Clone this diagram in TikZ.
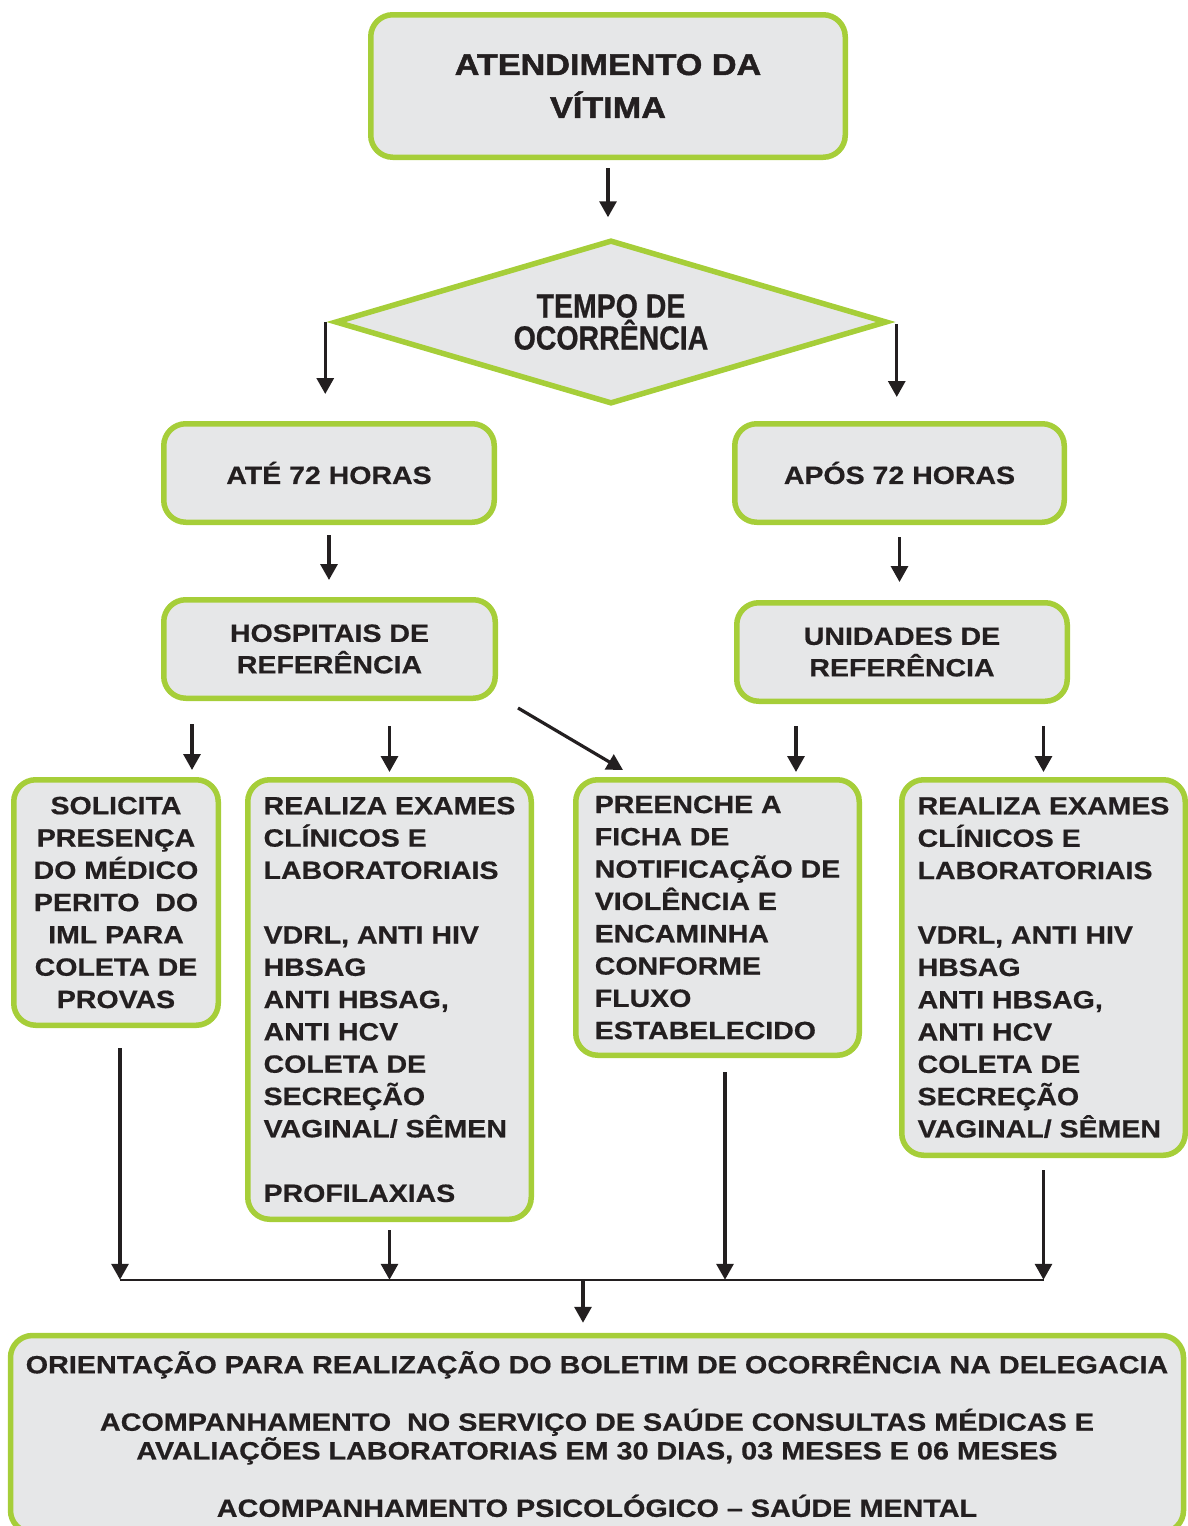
\documentclass[tikz,border=0pt]{standalone}
\usepackage{fontspec}
\setmainfont{Liberation Sans}
\newfontfamily\fw[FakeStretch=1.14, FakeBold=0.6]{Liberation Sans}
\newfontfamily\fb[FakeStretch=1.14, FakeBold=1.6]{Liberation Sans}
\newfontfamily\fc[FakeStretch=0.85, FakeBold=0.6]{Liberation Sans}
\newfontfamily\fl[FakeStretch=1.15, FakeBold=0.6]{Liberation Sans}
\usetikzlibrary{arrows.meta,shapes.geometric,calc}
\definecolor{lime}{RGB}{166,206,57}
\definecolor{boxgray}{RGB}{230,231,232}
\definecolor{ink}{RGB}{35,31,32}
\begin{document}
\begin{tikzpicture}[x=1pt,y=-1pt,
  box/.style={draw=lime, fill=boxgray, line width=5.5pt, rounded corners=22pt, inner sep=0pt, text=ink},
  midtxt/.style={font={\fw\bfseries\fontsize{25}{32.3}\selectfont}},
  arr/.style={draw=ink, line width=3.2pt, -{Triangle[width=17pt,length=16pt]}},
]
\useasboundingbox (0,0) rectangle (1188,1526);
\clip (0,0) rectangle (1188,1526);

\node[box, minimum width=474.5pt, minimum height=142.5pt, align=center,
      font={\fb\bfseries\fontsize{30}{43}\selectfont}] (top) at (608,86)
  {ATENDIMENTO DA\\V\'ITIMA};

\node[draw=lime, fill=boxgray, line width=5.5pt, text=ink, shape=diamond, shape aspect=3.3,
      inner sep=0pt, minimum width=552pt, minimum height=164pt, align=center,
      font={\fc\bfseries\fontsize{33.5}{32}\selectfont}] (diam) at (611,322)
  {TEMPO DE\\OCORR\^ENCIA};

\node[box, midtxt, minimum width=330.5pt, minimum height=98.5pt] (ate) at (329,473) {AT\'E 72 HORAS};
\node[box, midtxt, minimum width=329.5pt, minimum height=98.5pt] (apos) at (899.5,473) {AP\'OS 72 HORAS};

\node[box, midtxt, minimum width=331.5pt, minimum height=98.5pt, align=center,
      font={\fw\bfseries\fontsize{25}{31.5}\selectfont}] (hosp) at (329.5,649) {HOSPITAIS DE\\REFER\^ENCIA};
\node[box, midtxt, minimum width=330.5pt, minimum height=98.5pt, align=center,
      font={\fw\bfseries\fontsize{25}{31.5}\selectfont}] (unid) at (902,652) {UNIDADES DE\\REFER\^ENCIA};

\node[box, midtxt, minimum width=204.5pt, minimum height=245.5pt, align=center] (sol) at (116,902.5)
  {SOLICITA\\PRESEN\c{C}A\\DO M\'EDICO\\PERITO\ \ DO\\IML PARA\\COLETA DE\\PROVAS};

\node[box, midtxt, minimum width=283.5pt, minimum height=439.5pt, align=left] (real1) at (389.5,999.5)
  {REALIZA EXAMES\\CL\'INICOS E\\LABORATORIAIS\\[32.3pt]VDRL, ANTI HIV\\HBSAG\\ANTI HBSAG,\\ANTI HCV\\COLETA DE\\SECRE\c{C}\~AO\\VAGINAL/ S\^EMEN\\[32.3pt]PROFILAXIAS};

\node[box, midtxt, minimum width=283.5pt, minimum height=275.5pt, align=left] (pre) at (717.5,917.5)
  {PREENCHE A\\FICHA DE\\NOTIFICA\c{C}\~AO DE\\VIOL\^ENCIA E\\ENCAMINHA\\CONFORME\\FLUXO\\ESTABELECIDO};

\node[box, midtxt, minimum width=283.5pt, minimum height=375.5pt, align=left] (real2) at (1043.5,967.5)
  {REALIZA EXAMES\\CL\'INICOS E\\LABORATORIAIS\\[32.3pt]VDRL, ANTI HIV\\HBSAG\\ANTI HBSAG,\\ANTI HCV\\COLETA DE\\SECRE\c{C}\~AO\\VAGINAL/ S\^EMEN};

\node[box, minimum width=1173pt, minimum height=197pt, align=center,
      font={\fl\bfseries\fontsize{25}{28.7}\selectfont}] (bot) at (597,1434)
  {ORIENTA\c{C}\~AO PARA REALIZA\c{C}\~AO DO BOLETIM DE OCORR\^ENCIA NA DELEGACIA\\[28.7pt]
   ACOMPANHAMENTO\ \ NO SERVI\c{C}O DE SA\'UDE CONSULTAS M\'EDICAS E\\
   AVALIA\c{C}\~OES LABORATORIAS EM 30 DIAS, 03 MESES E 06 MESES\\[28.7pt]
   ACOMPANHAMENTO PSICOL\'OGICO – SA\'UDE MENTAL};

% connectors
\draw[arr, shorten <=8pt, shorten >=20pt] (top.south) -- (top.south |- diam.north);
\coordinate (dl) at ($(diam.west)+(-7,0)$);
\coordinate (dr) at ($(diam.east)+(7,2)$);
\draw[arr, shorten >=27pt] (dl) -- (dl |- ate.north);
\draw[arr, shorten >=24pt] (dr) -- (dr |- apos.north);
\draw[arr, shorten <=10pt, shorten >=17pt] (ate.south) -- (ate.south |- hosp.north);
\draw[arr, shorten <=12pt, shorten >=18pt] (apos.south) -- (apos.south |- unid.north);
\coordinate (a1) at ($(sol.north east)+(-29,0)$);
\draw[arr, shorten <=23pt, shorten >=7pt] (a1 |- hosp.south) -- (a1);
\draw[arr, shorten <=25pt, shorten >=5pt] (real1.north |- hosp.south) -- (real1.north);
\draw[arr] ($(hosp.south east)+(20,7)$) -- ($(pre.north west)+(50,-7)$);
\coordinate (a3) at ($(pre.north east)+(-66,0)$);
\draw[arr, shorten <=22pt, shorten >=5pt] (a3 |- unid.south) -- (a3);
\draw[arr, shorten <=22pt, shorten >=5pt] (real2.north |- unid.south) -- (real2.north);

\coordinate (bus) at ($(bot.north)+(0,-53)$);
\coordinate (b1) at ($(sol.south)+(4,0)$);
\coordinate (b3) at ($(pre.south)+(7.5,0)$);
\draw[arr, shorten <=20pt] (b1) -- (b1 |- bus);
\draw[arr, shorten <=8pt] (real1.south) -- (real1.south |- bus);
\draw[arr, shorten <=14pt] (b3) -- (b3 |- bus);
\draw[arr, shorten <=12pt] (real2.south) -- (real2.south |- bus);
\draw[draw=ink, line width=1.5pt] (b1 |- bus) -- (real2.south |- bus);
\coordinate (b5) at ($(bot.north)+(-14,0)$);
\draw[arr, shorten >=10pt] (b5 |- bus) -- (b5);
\end{tikzpicture}
\end{document}
